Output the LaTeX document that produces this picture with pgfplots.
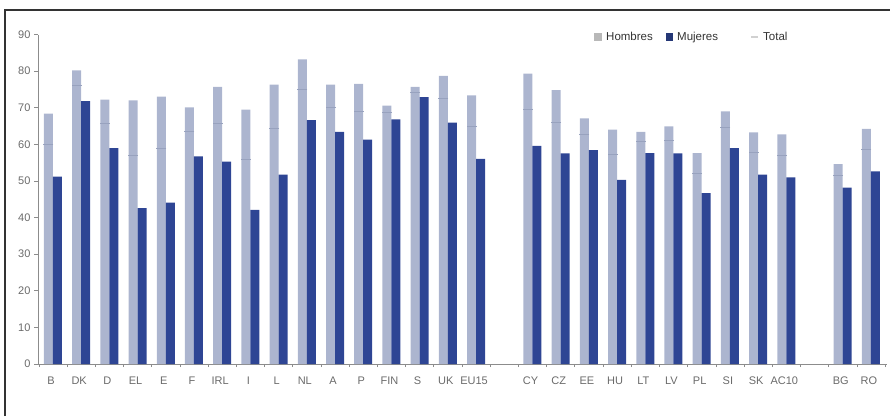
\documentclass[border=0pt]{standalone}
\usepackage{fontspec}
\setmainfont{Liberation Sans}
\usepackage{pgfplots}
\usepackage{pgfplotstable}
\pgfplotsset{compat=1.18}

\definecolor{hombres}{HTML}{ACB5CF}
\definecolor{mujeres}{HTML}{2E4594}
\definecolor{totalmk}{HTML}{98A2BE}
\definecolor{ticktxt}{HTML}{6A6A6A}

% x = slot, gaps at 16 and 27
\pgfplotstableread{
x  c    H     M     T
0  B    68.4  51.2  60.0
1  DK   80.2  71.8  76.1
2  D    72.2  59.0  65.8
3  EL   72.0  42.6  57.0
4  E    73.0  44.1  58.8
5  F    70.1  56.7  63.5
6  IRL  75.7  55.3  65.6
7  I    69.5  42.1  55.8
8  L    76.3  51.7  64.3
9  NL   83.2  66.6  75.0
10 A    76.3  63.4  70.0
11 P    76.5  61.3  68.9
12 FIN  70.6  66.8  68.7
13 S    75.7  72.9  74.2
14 UK   78.7  65.9  72.4
15 EU15 73.4  56.0  64.8
17 CY   79.3  59.6  69.6
18 CZ   74.8  57.5  66.1
19 EE   67.1  58.4  62.7
20 HU   64.0  50.3  57.3
21 LT   63.4  57.6  60.8
22 LV   64.9  57.5  61.0
23 PL   57.6  46.7  52.0
24 SI   69.0  59.0  64.5
25 SK   63.3  51.7  57.7
26 AC10 62.7  51.0  56.9
28 BG   54.6  48.2  51.6
29 RO   64.2  52.6  58.6
}\data

\begin{document}
\begin{tikzpicture}
\useasboundingbox (0,0) rectangle (890pt,416pt);
% outer frame (top and left edges)
\draw[line width=1.4pt, black!80] (5pt,0) -- (5pt,406pt) -- (890pt,406pt);

\begin{axis}[
  at={(38pt,52pt)}, anchor=south west,
  scale only axis,
  width=849pt, height=329.5pt,
  xmin=-0.53, xmax=29.57,
  ymin=0, ymax=90,
  axis x line*=bottom, axis y line*=left,
  axis line style={black!45, line width=0.6pt},
  xtick=data,
  xticklabels from table={\data}{c},
  minor xtick={-0.5,0.5,...,29.5},
  ytick={0,10,...,90},
  major tick length=4pt,
  minor tick length=3pt,
  tick align=outside,
  tick style={black!45, line width=0.6pt},
  x tick style={draw=none},
  minor x tick style={draw=black!45},
  every tick label/.append style={font=\fontsize{11}{13}\selectfont, text=ticktxt},
  /pgf/number format/assume math mode=true,
  xticklabel style={yshift=-5pt, xshift=-2pt},
  clip=false,
]
\addplot[ybar, bar width=9pt, bar shift=-4.5pt, fill=hombres, draw=none]
  table[x=x, y=H] {\data};
\addplot[ybar, bar width=9pt, bar shift=4.5pt, fill=mujeres, draw=none]
  table[x=x, y=M] {\data};
\addplot[only marks, mark=-, mark size=5pt, mark options={line width=1pt, draw=totalmk}]
  table[x expr=\thisrow{x}-0.16, y=T] {\data};
\end{axis}

% legend
\begin{scope}[font=\fontsize{11.5}{13}\selectfont, text=black!80]
\fill[black!28] (594pt,375pt) rectangle (602pt,383pt);
\node[anchor=base west, inner sep=0pt] at (606pt,375pt) {Hombres};
\fill[mujeres!80!black] (666pt,375pt) rectangle (673pt,383pt);
\node[anchor=base west, inner sep=0pt] at (677pt,375pt) {Mujeres};
\draw[black!18, line width=2pt] (751pt,379pt) -- (758pt,379pt);
\node[anchor=base west, inner sep=0pt] at (763pt,375pt) {Total};
\end{scope}
\end{tikzpicture}
\end{document}
